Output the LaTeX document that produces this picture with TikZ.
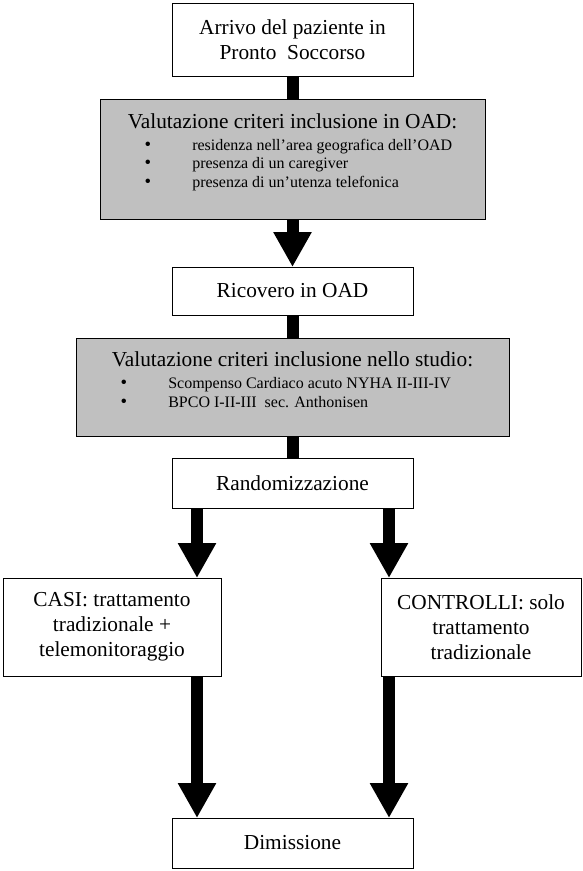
\documentclass[tikz,border=0pt]{standalone}
\usepackage{fontspec}
\setmainfont{Liberation Serif}
\usetikzlibrary{arrows.meta}
\definecolor{boxgray}{HTML}{C0C0C0}
\tikzset{
  box/.style={draw=black, line width=0.75pt, fill=white, inner sep=0pt, outer sep=0pt,
    align=center, font=\fontsize{16}{18.8}\selectfont},
  graybox/.style={box, fill=boxgray},
  bar/.style={line width=9pt, line cap=butt},
  bigarrow/.style={line width=9pt, -{Triangle[width=27pt,length=26.25pt]}},
  title/.style={anchor=base, inner sep=0pt, font=\fontsize{16}{18.8}\selectfont},
  itemtext/.style={anchor=base west, inner sep=0pt, font=\fontsize{12}{14}\selectfont},
  bulletdot/.style={anchor=base, inner sep=0pt, font=\fontsize{14}{14}\selectfont},
}
\begin{document}
\begin{tikzpicture}[x=0.75pt,y=-0.75pt]
\useasboundingbox (0,0) rectangle (582,871);
% boxes
\node[box, minimum width=180.75pt, minimum height=54.75pt] (arrivo) at (292.5,39.5)
  {Arrivo del paziente in\\Pronto\ \ Soccorso};
\node[graybox, minimum width=288.75pt, minimum height=90pt] (oad) at (292.5,159) {};
\node[box, minimum width=180.75pt, minimum height=36pt] (ricovero) at (292.5,291) {Ricovero in OAD};
\node[graybox, minimum width=324.75pt, minimum height=73.5pt] (studio) at (292.5,387) {};
\node[box, minimum width=180.75pt, minimum height=37.5pt] (rand) at (292.5,483) {Randomizzazione};
\node[box, minimum width=163.5pt, minimum height=73.5pt] (casi) at (112,627)
  {CASI: trattamento\\tradizionale +\\telemonitoraggio};
\node[box, minimum width=150pt, minimum height=73.5pt] (controlli) at (481,627)
  {CONTROLLI: solo\\trattamento\\tradizionale};
\node[box, minimum width=180.75pt, minimum height=37.5pt] (dim) at (292.5,843) {Dimissione};
% texts in grey boxes
\node[title] (oadtitle) at (292.5,128.3) {Valutazione criteri inclusione in OAD:};
\node[bulletdot] (oadb1) at (148,150) {\textbullet};
\node[bulletdot] (oadb2) at (148,168.7) {\textbullet};
\node[bulletdot] (oadb3) at (148,187.4) {\textbullet};
\node[itemtext] (oadi1) at (192,150) {residenza nell’area geografica dell’OAD};
\node[itemtext] (oadi2) at (192,168.7) {presenza di un caregiver};
\node[itemtext] (oadi3) at (192,187.4) {presenza di un’utenza telefonica};
\node[title] (studiotitle) at (292.5,366) {Valutazione criteri inclusione nello studio:};
\node[bulletdot] (stb1) at (124,388) {\textbullet};
\node[bulletdot] (stb2) at (124,407) {\textbullet};
\node[itemtext] (sti1) at (168,388) {Scompenso Cardiaco acuto NYHA II-III-IV};
\node[itemtext] (sti2) at (168,407) {BPCO I-II-III\ \ sec. Anthonisen};
% connectors
\coordinate (lx) at (197,0);
\coordinate (rx) at (389,0);
\draw[bar] (arrivo.south) -- (oad.north);
\draw[bigarrow] (oad.south) -- (ricovero.north);
\draw[bar] (ricovero.south) -- (studio.north);
\draw[bar] (studio.south) -- (rand.north);
\draw[bigarrow] (rand.south -| lx) -- (casi.north -| lx);
\draw[bigarrow] (rand.south -| rx) -- (controlli.north -| rx);
\draw[bigarrow] (casi.south -| lx) -- (dim.north -| lx);
\draw[bigarrow] (controlli.south -| rx) -- (dim.north -| rx);
\end{tikzpicture}
\end{document}
